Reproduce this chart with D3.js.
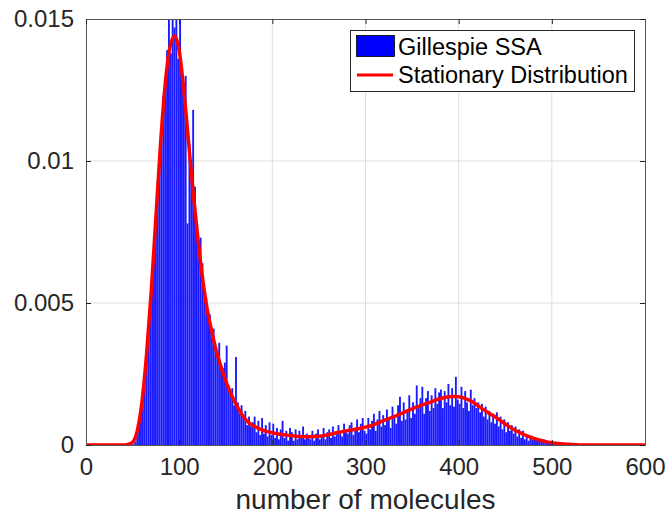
<!DOCTYPE html>
<html>
<head>
<meta charset="utf-8">
<script src="https://cdn.jsdelivr.net/npm/d3@7"></script>
<style>
  body { margin: 0; background: #fff; }
  text { font-family: "Liberation Sans", Helvetica, Arial, sans-serif; fill: #262626; }
</style>
</head>
<body>
<script>
// histogram: bins of width 2 molecules, density in units of 1e-5
let binWidth = 2;
let histE5 = [
  0,0,0,0,0,0,0,0,0,0, 0,0,0,0,0,0,0,0,0,0,
  0,0,0,0,1,3,12,35,80,125,
  190,240,335,390,510,570,700,790,930,990,
  1080,1230,1250,1390,1520,1380,1560,1470,1550,1360,
  1510,1290,1230,1300,780,1060,960,1180,910,760,
  690,730,640,540,520,450,460,380,410,330,
  310,360,280,270,290,350,210,190,200,140,
  310,150,110,140,95,120,70,100,65,80,
  100,45,85,35,95,40,70,30,80,35,
  75,25,60,20,55,85,25,50,15,60,
  45,15,55,20,50,25,65,20,40,25,
  20,50,15,40,55,20,35,60,20,45,
  55,25,65,30,45,70,40,30,75,45,
  40,70,80,35,60,90,45,75,95,50,
  40,95,55,85,110,50,90,120,65,105,
  70,125,95,60,135,105,75,140,170,85,
  150,90,125,175,95,150,110,210,130,165,
  205,110,165,190,120,175,130,200,145,185,
  195,130,190,150,215,140,200,135,240,160,
  145,205,130,190,150,120,195,140,165,130,
  150,115,145,100,135,90,120,80,110,75,
  115,65,100,55,90,45,80,50,70,40,
  65,30,55,25,50,20,35,15,30,20,
  20,25,15,18,12,20,10,8,12,6,
  8,5,6,3,4,2,3,1,2,1,
  1,0,1,0,0,0,0,0,0,0,
  0,0,0,0,0,0,0,0,0,0, 0,0,0,0,0,0,0,0,0,0, 0,0,0,0,0,0,0,0,0,0
];

// stationary distribution, sampled every 5 molecules, units of 1e-5
let statStep = 5;
let statE5 = [
  0,0,0,0,0,0,0,0,0,2,
  10,50,150,320,540,800,1060,1270,1400,1440,
  1390,1250,1070,890,730,590,480,400,330,275,
  225,185,150,120,95,78,67,59,52,47,
  43,40,37,35,33,31,30,29,29,30,
  31,33,36,40,44,47,50,53,56,59,
  63,67,73,80,87,93,99,106,113,120,
  127,134,140,146,151,158,163,167,170,171,
  170,166,160,151,140,128,117,107,97,86,
  74,63,53,45,37,30,24,19,15,11,
  8,6,4,3,2,1,0,0,0,0,
  0,0,0,0,0,0,0,0,0,0,
  0
];

let xTicks = [0, 100, 200, 300, 400, 500, 600];
let yTicks = [0, 0.005, 0.01, 0.015];
let legendLabels = ["Gillespie SSA", "Stationary Distribution"];
let xLabel = "number of molecules";

let w = 665, h = 514;
let padL = 86, padR = 645, padT = 19, padB = 445;

let svg = d3.select("body").append("svg")
  .attr("width", w)
  .attr("height", h);

svg.append("rect").attr("width", w).attr("height", h).attr("fill", "#fff");

let xScale = d3.scaleLinear().domain([0, 600]).range([padL, padR]);
let yScale = d3.scaleLinear().domain([0, 0.015]).range([padB, padT]);

svg.append("clipPath").attr("id", "plot-clip")
  .append("rect")
  .attr("x", padL).attr("y", padT)
  .attr("width", padR - padL).attr("height", padB - padT);

// grid
let grid = svg.append("g").attr("stroke", "#dfdfdf").attr("stroke-width", 1);
grid.selectAll(".gx")
  .data(xTicks.slice(1, -1))
  .enter().append("line")
  .attr("x1", d => xScale(d)).attr("x2", d => xScale(d))
  .attr("y1", padT).attr("y2", padB);
grid.selectAll(".gy")
  .data(yTicks.slice(1, -1))
  .enter().append("line")
  .attr("x1", padL).attr("x2", padR)
  .attr("y1", d => yScale(d)).attr("y2", d => yScale(d));

// bars
let plot = svg.append("g").attr("clip-path", "url(#plot-clip)");
plot.selectAll("rect.bar")
  .data(histE5)
  .enter().append("rect")
  .attr("class", "bar")
  .attr("x", (d, i) => xScale(i * binWidth))
  .attr("width", xScale(binWidth) - xScale(0))
  .attr("y", d => yScale(d / 1e5))
  .attr("height", d => padB - yScale(d / 1e5))
  .attr("fill", "#1a1aff");

// stationary curve
let line = d3.line()
  .x((d, i) => xScale(i * statStep))
  .y(d => yScale(d / 1e5))
  .curve(d3.curveMonotoneX);
plot.append("path")
  .datum(statE5)
  .attr("d", line)
  .attr("fill", "none")
  .attr("stroke", "#ff0000")
  .attr("stroke-width", 3.5);

// axes
let fmtY = d => d === 0 ? "0" : String(+d.toFixed(3));
let xAxis = d3.axisBottom(xScale).tickValues(xTicks).tickSizeInner(-5).tickSizeOuter(0).tickPadding(13);
let yAxis = d3.axisLeft(yScale).tickValues(yTicks).tickFormat(fmtY).tickSizeInner(-5).tickSizeOuter(0).tickPadding(12);

svg.append("g").attr("transform", "translate(0," + padB + ")").call(xAxis);
svg.append("g").attr("transform", "translate(" + padL + ",0)").call(yAxis);
svg.append("g").attr("transform", "translate(0," + padT + ")")
  .call(d3.axisTop(xScale).tickValues(xTicks).tickFormat("").tickSizeInner(-5).tickSizeOuter(0));
svg.append("g").attr("transform", "translate(" + padR + ",0)")
  .call(d3.axisRight(yScale).tickValues(yTicks).tickFormat("").tickSizeInner(-5).tickSizeOuter(0));

svg.selectAll(".domain").attr("stroke", "#555");
svg.selectAll(".tick line").attr("stroke", "#262626");
svg.selectAll(".tick text")
  .style("font-family", "'Liberation Sans', Helvetica, Arial, sans-serif")
  .style("font-size", "24px")
  .attr("fill", "#262626");

svg.append("text")
  .attr("x", (padL + padR) / 2)
  .attr("y", 509)
  .attr("text-anchor", "middle")
  .style("font-size", "28px")
  .text(xLabel);

// legend
let lg = svg.append("g");
lg.append("rect")
  .attr("x", 350.5).attr("y", 30.5)
  .attr("width", 284).attr("height", 61)
  .attr("fill", "#fff").attr("stroke", "#262626").attr("stroke-width", 1);
lg.append("rect")
  .attr("x", 356.5).attr("y", 35.5)
  .attr("width", 38).attr("height", 21)
  .attr("fill", "#0000ff").attr("stroke", "#000").attr("stroke-width", 0.8);
lg.append("line")
  .attr("x1", 357).attr("x2", 393)
  .attr("y1", 75).attr("y2", 75)
  .attr("stroke", "#ff0000").attr("stroke-width", 3);
lg.selectAll("text.lbl")
  .data(legendLabels)
  .enter().append("text")
  .attr("class", "lbl")
  .attr("x", 398)
  .attr("y", (d, i) => 55 + i * 28)
  .style("font-size", "23.5px")
  .style("fill", "#000")
  .text(d => d);
</script>
</body>
</html>
